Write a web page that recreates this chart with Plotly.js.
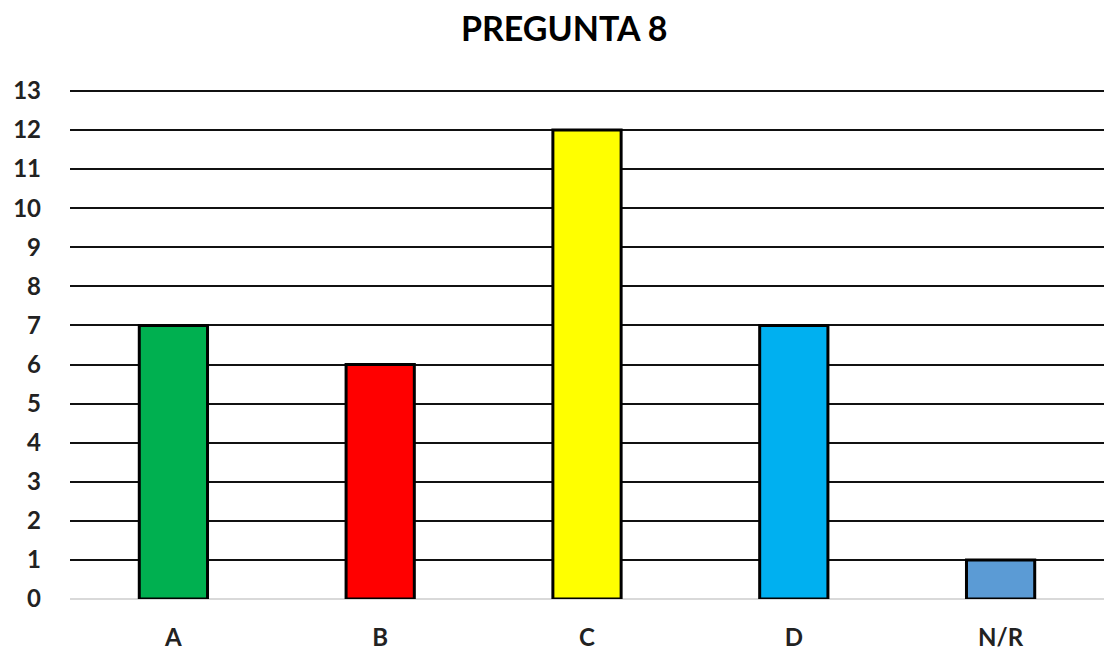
<!DOCTYPE html>
<html>
<head>
<meta charset="utf-8">
<script src="https://cdn.plot.ly/plotly-3.0.1.min.js"></script>
<style>
  html, body { margin: 0; padding: 0; background: #fff; }
  #chart { width: 1104px; height: 654px; }
</style>
</head>
<body>
<div id="chart"></div>
<script>
// Respuestas a la pregunta 8
const categories = ['A', 'B', 'C', 'D', 'N/R'];
const counts = [7, 6, 12, 7, 1];
const barColors = ['#00b050', '#ff0000', '#ffff00', '#00b0f0', '#5b9bd5'];
const yTicks = [0, 1, 2, 3, 4, 5, 6, 7, 8, 9, 10, 11, 12, 13];

const trace = {
  type: 'bar',
  x: categories,
  y: counts,
  marker: { color: barColors, line: { color: '#000', width: 3 } },
  hoverinfo: 'x+y'
};

const layout = {
  width: 1104,
  height: 654,
  margin: { l: 70, r: 0, t: 87, b: 55 },
  paper_bgcolor: '#fff',
  plot_bgcolor: '#fff',
  bargap: 0.67,
  showlegend: false,
  font: { family: 'Lato, "Open Sans", sans-serif', color: '#222' },
  title: {
    text: '<b>PREGUNTA 8</b>',
    font: { size: 34, color: '#000', family: 'Lato, sans-serif' },
    x: 0.511, xref: 'container', xanchor: 'center',
    y: 0.955, yref: 'container', yanchor: 'middle'
  },
  xaxis: {
    type: 'category',
    range: [-0.5, 4.5],
    showgrid: false,
    showline: false,
    ticks: '',
    ticklabelstandoff: 22,
    tickfont: { size: 24, family: 'Lato, sans-serif', color: '#222', weight: 'bold' }
  },
  yaxis: {
    range: [0, 13.1],
    tickvals: yTicks,
    ticktext: yTicks.map(String),
    showgrid: true,
    gridcolor: '#111',
    gridwidth: 2,
    zeroline: true,
    zerolinecolor: '#d9d9d9',
    zerolinewidth: 2,
    showline: false,
    ticks: '',
    ticklabelstandoff: 28,
    tickfont: { size: 24, family: 'Lato, sans-serif', color: '#222', weight: 'bold' }
  }
};

Plotly.newPlot('chart', [trace], layout, { displayModeBar: false, staticPlot: true });
</script>
</body>
</html>
